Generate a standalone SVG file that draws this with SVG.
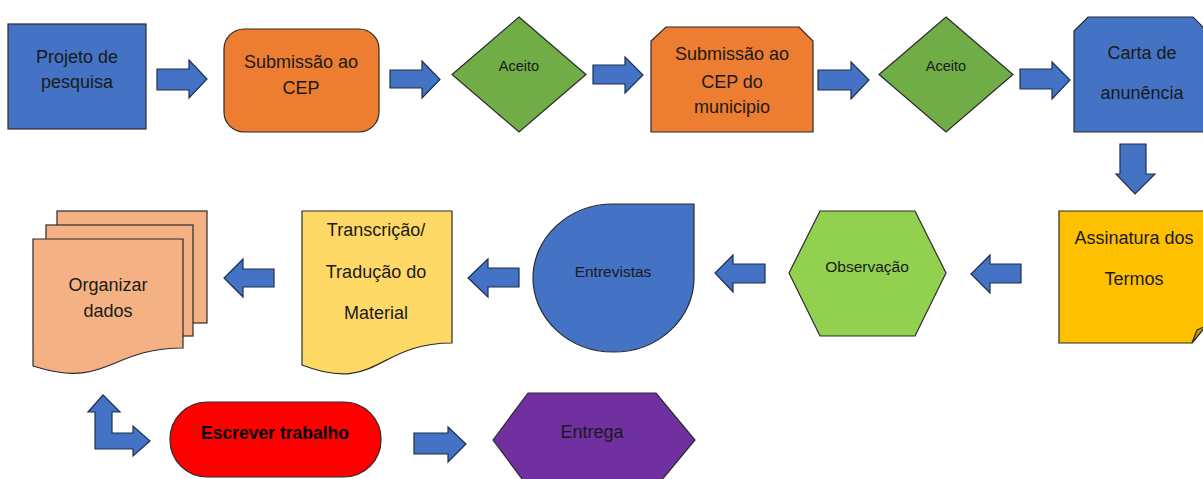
<svg xmlns="http://www.w3.org/2000/svg" width="1203" height="479" viewBox="0 0 1203 479">
<style>
.s{stroke:#2a2a2a;stroke-width:1.2;stroke-linejoin:miter}
.ar{fill:#4472C4;stroke:#1f2f4f;stroke-width:1.2}
.t{font-family:"Liberation Sans",Arial,sans-serif;font-size:18px;fill:#1a1a1a;text-anchor:middle}
.sm{font-size:14.5px}
.md{font-size:15.5px}
.b{font-weight:bold;font-size:17.5px;fill:#000}
</style>
<rect width="1203" height="479" fill="#fff"/>
<g id="connectors">
<path class="ar" d="M157,69 H189 V60 L207,79 L189,98 V90 H157 Z"/>
<path class="ar" d="M390,70 H422 V61 L440,79.5 L422,98 V88 H390 Z"/>
<path class="ar" d="M593,65 H625 V57 L643,75 L625,93 V84 H593 Z"/>
<path class="ar" d="M818,70 H851 V62 L869,80 L851,99 V90 H818 Z"/>
<path class="ar" d="M1020,69 H1052 V62 L1070,80 L1052,99 V89 H1020 Z"/>
<path class="ar" d="M1120,144 H1146 V174 H1155 L1135,194 L1116,174 H1120 Z"/>
<path class="ar" d="M1021,264 H990 V255 L971,274 L990,293 V283 H1021 Z"/>
<path class="ar" d="M765,264 H733 V255 L715,273 L733,292 V283 H765 Z"/>
<path class="ar" d="M519,268 H488 V259 L468,278 L488,297 V287 H519 Z"/>
<path class="ar" d="M274,269 H243 V259 L224,278 L243,297 V287 H274 Z"/>
<path class="ar" d="M95,412 H88 L103,395 L120,412 H112 V433 H133 V426 L150,441 L133,456 V449 H95 Z"/>
<path class="ar" d="M414,433 H448 V427 L466,444 L448,462 V454 H414 Z"/>
</g>
<g id="projeto">
<rect class="s" x="8" y="24" width="138" height="105" fill="#4472C4"/>
<text class="t" x="77" y="63">Projeto de</text>
<text class="t" x="77" y="88">pesquisa</text>
</g>
<g id="submissao-cep">
<rect class="s" x="224" y="29" width="155" height="103" rx="20" fill="#ED7D31"/>
<text class="t" x="301" y="68">Submissão ao</text>
<text class="t" x="301" y="94">CEP</text>
</g>
<g id="aceito1">
<path class="s" d="M519,17 L586,74.5 L519,132 L452,74.5 Z" fill="#70AD47"/>
<text class="t sm" x="519" y="71">Aceito</text>
</g>
<g id="submissao-municipio">
<path class="s" d="M666,27 H799 L813,41 V132 H651 V41 Z" fill="#ED7D31"/>
<text class="t" x="732" y="60">Submissão ao</text>
<text class="t" x="732" y="88">CEP do</text>
<text class="t" x="732" y="113">municipio</text>
</g>
<g id="aceito2">
<path class="s" d="M946,17 L1013,74.5 L946,132 L879,74.5 Z" fill="#70AD47"/>
<text class="t sm" x="946" y="71">Aceito</text>
</g>
<g id="carta">
<path class="s" d="M1088,17 H1193 L1207,31 V132 H1074 V31 Z" fill="#4472C4"/>
<text class="t" x="1142" y="59">Carta de</text>
<text class="t" x="1142" y="99">anunência</text>
</g>
<g id="assinatura">
<path class="s" d="M1059,211 H1206 V326 L1192,343 H1059 Z" fill="#FFC000"/>
<path class="s" d="M1192,343 L1197,330 L1206,326 Z" fill="#CC9A06"/>
<text class="t" x="1134" y="244">Assinatura dos</text>
<text class="t" x="1134" y="285">Termos</text>
</g>
<g id="observacao">
<path class="s" d="M789,273 L820,211 H915 L946,273 L915,336 H820 Z" fill="#92D050"/>
<text class="t md" x="867" y="272">Observação</text>
</g>
<g id="entrevistas">
<path class="s" d="M613.5,204 H694 V278 A80.5,74 0 1 1 613.5,204 Z" fill="#4472C4"/>
<text class="t md" x="613" y="277">Entrevistas</text>
</g>
<g id="transcricao">
<path class="s" d="M302,211 H452 V343 C377,343 377,394 302,365 Z" fill="#FFD966"/>
<text class="t" x="376" y="236">Transcrição/</text>
<text class="t" x="376" y="278">Tradução do</text>
<text class="t" x="376" y="319">Material</text>
</g>
<g id="organizar">
<rect class="s" x="57" y="211" width="150" height="112" fill="#F4B183"/>
<rect class="s" x="46" y="225" width="147" height="111" fill="#F4B183"/>
<path class="s" d="M33,239 H183 V348 C108,348 108,390 33,366 Z" fill="#F4B183"/>
<text class="t" x="108" y="291">Organizar</text>
<text class="t" x="108" y="317">dados</text>
</g>
<g id="escrever">
<rect class="s" x="170" y="402" width="211" height="75" rx="37" fill="#FF0000"/>
<text class="t b" x="275" y="439">Escrever trabalho</text>
</g>
<g id="entrega">
<path class="s" d="M493,440 L528,393 H656 L695,440 L656,487 H528 Z" fill="#7030A0"/>
<text class="t" x="592" y="438">Entrega</text>
</g>
</svg>
